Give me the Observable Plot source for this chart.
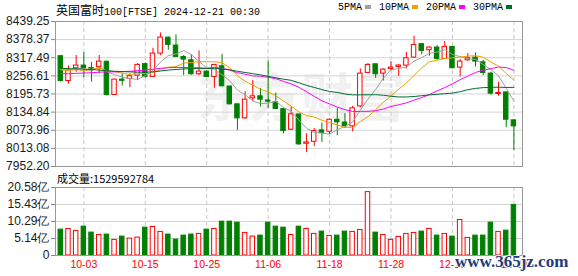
<!DOCTYPE html>
<html>
<head>
<meta charset="utf-8">
<script src="https://cdn.jsdelivr.net/npm/d3@7"></script>
<script src="https://cdn.jsdelivr.net/npm/@observablehq/plot@0.6"></script>
<style>
  html, body { margin: 0; padding: 0; background: #fff; }
  #wrap { position: relative; width: 578px; height: 276px; overflow: hidden; background: #fff; }
  #main, #vol { position: absolute; left: 0; }
  #main { top: 0; }
  #vol { top: 170px; }
  #title { position: absolute; left: 56px; top: 1px; font-size: 12px; color: #000; white-space: nowrap; z-index: 2; }
  #title .cjk { font-family: "Noto Sans CJK SC", sans-serif; font-size: 12px; }
  #title .asc { font-family: "Liberation Mono", monospace; font-size: 10px; }
  #legend { position: absolute; left: 338px; top: 2px; font-family: "Liberation Mono", monospace; font-size: 10px; color: #000; white-space: nowrap; z-index: 2; }
  #legend .sq { display: inline-block; width: 6px; height: 4px; margin: 0 8px 1px 3px; vertical-align: middle; }
  #volhead { position: absolute; left: 57px; top: 170px; font-family: "Noto Sans CJK SC", sans-serif; font-size: 11px; color: #000; white-space: nowrap; z-index: 2; }
  #site { position: absolute; left: 455px; top: 252px; font-family: "Liberation Serif", serif; font-weight: bold; font-size: 17px; color: #1f3d7a; white-space: nowrap; z-index: 3;
          text-shadow: 1px 0 #fff, -1px 0 #fff, 0 1px #fff, 0 -1px #fff; }
</style>
</head>
<body>
<div id="wrap">
  <div id="main"></div>
  <div id="vol"></div>
  <div id="title"></div>
  <div id="legend"></div>
  <div id="volhead"></div>
  <div id="site">www.365jz.com</div>
</div>
<script>
const titleCjk = "英国富时";
const titleAsc = "100[FTSE] 2024-12-21 00:30";
const legendNames = ["5PMA", "10PMA", "20PMA", "30PMA"];
const legendColors = ["#a0a0a0", "#f0a000", "#ff00ff", "#006a33"];
const volHeadLabel = "成交量";
const volHeadValue = "1529592784";

const dates = ["09-30","10-01","10-02","10-03","10-04","10-07","10-08","10-09","10-10","10-11",
  "10-14","10-15","10-16","10-17","10-18","10-21","10-22","10-23","10-24","10-25",
  "10-28","10-29","10-30","10-31","11-01","11-04","11-05","11-06","11-07","11-08",
  "11-11","11-12","11-13","11-14","11-15","11-18","11-19","11-20","11-21","11-22",
  "11-25","11-26","11-27","11-28","11-29","12-02","12-03","12-04","12-05","12-06",
  "12-09","12-10","12-11","12-12","12-13","12-16","12-17","12-18","12-19","12-20"];

const open = [8322.6,8239.5,8282.2,8291.2,8282.5,8286.6,8304.0,8192.4,8244.0,8246.3,
  8257.5,8296.0,8253.0,8331.5,8385.0,8358.5,8320.0,8309.0,8262.0,8271.0,
  8253.0,8288.9,8221.0,8161.0,8114.0,8181.2,8188.0,8174.0,8167.7,8145.0,
  8075.7,8127.0,8028.6,8035.3,8073.5,8069.0,8109.0,8100.0,8087.0,8154.0,
  8266.5,8295.6,8264.2,8279.9,8286.6,8291.0,8318.0,8363.0,8342.7,8351.7,
  8313.6,8354.0,8284.4,8309.0,8318.0,8302.0,8264.2,8195.8,8201.0,8107.2];
const high = [8325.0,8290.0,8324.8,8334.9,8302.0,8324.8,8306.0,8245.0,8264.0,8264.0,
  8297.9,8300.0,8349.5,8401.0,8387.0,8394.4,8325.0,8327.0,8340.5,8273.0,
  8295.6,8329.3,8222.0,8162.0,8203.6,8241.8,8214.9,8306.9,8199.2,8146.0,
  8152.0,8128.0,8062.2,8080.2,8098.2,8111.6,8147.5,8129.6,8154.2,8279.9,
  8297.9,8296.0,8279.9,8304.6,8295.6,8336.0,8389.9,8365.2,8354.0,8358.5,
  8372.0,8355.0,8311.3,8331.5,8333.8,8309.0,8268.7,8235.0,8202.0,8108.0];
const low = [8236.0,8229.0,8268.7,8250.8,8236.0,8264.0,8189.0,8191.0,8222.7,8217.0,
  8240.7,8249.6,8253.0,8324.8,8342.7,8318.0,8257.5,8259.0,8257.5,8251.0,
  8214.9,8219.4,8158.8,8073.5,8109.4,8170.0,8152.0,8147.5,8145.0,8062.3,
  8073.5,8024.0,7999.4,8019.6,8033.0,8060.0,8055.5,8080.0,8069.0,8149.8,
  8264.2,8248.5,8239.5,8273.2,8255.2,8280.0,8315.8,8327.0,8322.6,8309.0,
  8311.3,8281.0,8253.0,8304.6,8286.6,8257.5,8192.4,8188.0,8082.4,8006.0];
const close = [8239.5,8275.4,8291.2,8282.2,8280.6,8304.6,8192.4,8244.0,8240.0,8255.3,
  8293.4,8253.0,8331.5,8385.4,8360.7,8320.3,8311.3,8262.0,8271.0,8253.0,
  8293.4,8221.6,8161.0,8113.9,8176.7,8187.9,8176.7,8170.0,8145.2,8071.3,
  8127.3,8026.4,8033.1,8071.3,8064.5,8109.4,8100.4,8087.0,8147.5,8264.2,
  8293.4,8262.0,8277.7,8284.4,8291.2,8315.8,8360.7,8340.5,8351.7,8313.6,
  8354.0,8282.2,8304.6,8315.8,8304.6,8266.5,8196.9,8199.0,8109.4,8087.0];
// volume in 亿 (1e8)
const volume = [7.83,8.03,7.43,8.73,6.93,6.22,6.33,4.72,5.72,5.12,
  5.42,8.43,8.63,7.13,6.33,4.82,6.02,6.33,6.53,7.83,
  8.03,10.24,10.24,9.94,6.83,5.72,6.02,9.94,8.73,8.43,
  6.22,8.73,8.03,6.53,7.23,5.92,6.02,7.23,7.13,7.73,
  19.18,6.93,6.22,4.72,5.62,6.53,6.83,7.23,8.03,6.02,
  6.53,5.72,10.74,5.32,6.02,6.02,9.94,7.13,7.53,15.30];

const ma5 = [8278,8277,8282,8281,8273.8,8286.8,8270.2,8260.8,8252.3,8247.3,
  8245.0,8257.1,8274.6,8303.7,8324.8,8330.2,8341.8,8327.9,8305.1,8283.5,
  8278.1,8260.2,8240.0,8208.6,8193.3,8172.2,8163.2,8165.0,8171.3,8150.2,
  8138.1,8108.0,8080.7,8065.9,8064.5,8060.9,8075.7,8086.5,8101.8,8141.7,
  8178.5,8210.8,8249.0,8276.3,8281.7,8286.2,8306.0,8318.5,8332.0,8336.5,
  8344.1,8328.4,8321.2,8314.0,8312.2,8294.7,8277.7,8256.6,8215.3,8171.8];
const ma10 = [8277,8274,8278,8273,8278,8283,8274,8271,8266,8260.5,
  8265.9,8263.7,8267.7,8278.0,8286.0,8287.6,8299.5,8301.3,8304.4,8304.2,
  8304.2,8301.0,8284.0,8256.8,8238.4,8225.2,8211.7,8202.5,8189.9,8171.8,
  8155.2,8135.6,8122.9,8118.6,8107.4,8099.5,8091.9,8083.6,8083.8,8103.1,
  8119.7,8143.3,8167.7,8189.1,8211.7,8232.4,8258.4,8283.7,8304.2,8309.1,
  8315.2,8317.2,8319.9,8323.0,8324.4,8319.4,8303.0,8288.9,8264.7,8242.0];
const ma20 = [8264,8264,8265,8266,8267,8269,8270,8270,8271,8272,
  8274,8276,8279,8282,8284,8285,8285,8284,8284,8282.3,
  8285.0,8282.3,8275.8,8267.4,8262.2,8256.4,8255.6,8251.9,8247.2,8238.0,
  8229.7,8218.3,8203.4,8187.7,8172.9,8162.4,8151.8,8143.1,8136.9,8137.4,
  8137.4,8139.5,8145.3,8153.8,8159.5,8165.9,8175.1,8183.7,8194.0,8206.1,
  8217.4,8230.2,8243.8,8256.0,8268.0,8275.9,8280.7,8286.3,8284.4,8275.6];
const ma30 = [8282,8281,8280,8279,8278,8276,8274,8272,8271,8270,
  8269,8269,8270,8273,8276,8278,8280,8281,8281,8281,
  8282,8280,8277,8272,8268,8264,8260,8255,8250,8245.5,
  8241.7,8233.4,8224.8,8217.8,8210.6,8204.1,8201.0,8195.8,8192.7,8193.0,
  8193.0,8193.3,8191.5,8188.2,8185.8,8185.7,8187.3,8190.0,8192.6,8194.7,
  8196.7,8198.7,8203.5,8210.2,8214.5,8217.1,8217.8,8218.7,8217.5,8218.1];

const priceTicks = [7952.20,8013.08,8073.96,8134.84,8195.73,8256.61,8317.49,8378.37,8439.25];
const volTicks = [0,5.145,10.29,15.435,20.58];
const volTickLabels = ["0","5.14亿","10.29亿","15.43亿","20.58亿"];
const labelIdx = [3,11,19,27,35,43,51,59];
const watermark = "东方财富";

// ---- header texts ----
document.getElementById("title").innerHTML =
  `<span class="cjk">${titleCjk}</span><span class="asc">${titleAsc}</span>`;
document.getElementById("legend").innerHTML = legendNames.map((n, k) =>
  `<span>${n}</span><span class="sq" style="background:${legendColors[k]}"></span>`).join("");
document.getElementById("volhead").textContent = volHeadLabel + ":" + volHeadValue;

const RED = "#ff0000", GREEN = "#008000";
const rows = dates.map((d, i) => ({
  i, o: open[i], h: high[i], l: low[i], c: close[i], v: volume[i], up: close[i] >= open[i]
}));
const xDomain = [-0.69, 60.12];
const half = 0.29;
const font = "Liberation Sans, Arial, sans-serif";

const maSeries = [ma5, ma10, ma20, ma30];

const mainChart = Plot.plot({
  width: 578, height: 170,
  marginLeft: 55, marginRight: 56, marginTop: 21, marginBottom: 4,
  style: { fontFamily: font, fontSize: "12px", background: "transparent", overflow: "visible" },
  x: { domain: xDomain, axis: null },
  y: { domain: [priceTicks[0], priceTicks[priceTicks.length - 1]], axis: null },
  marks: [
    Plot.text([watermark], { frameAnchor: "middle", text: d => d, dx: 12, dy: 6, fontSize: 52,
      fontWeight: "bold", fill: "#f1f1f1", fontFamily: "Noto Sans CJK SC" }),
    Plot.ruleY(priceTicks, { stroke: "#d4d4d4" }),
    Plot.ruleX(labelIdx, { stroke: "#c8c8c8", strokeDasharray: "4,3" }),
    Plot.ruleX(rows, { x: "i", y1: "l", y2: "h", stroke: d => d.up ? RED : GREEN }),
    Plot.rect(rows, { x1: d => d.i - half, x2: d => d.i + half, y1: "o", y2: "c",
      fill: d => d.up ? "#fff" : GREEN, stroke: d => d.up ? RED : GREEN, strokeWidth: 1 }),
    ...maSeries.map((s, k) => Plot.line(s, { x: (d, i) => i, y: d => d, stroke: legendColors[k], strokeWidth: 1 })),
    Plot.axisY({ ticks: priceTicks, tickFormat: d => d.toFixed(2), tickSize: 4, tickPadding: 2,
      stroke: "#888", fill: "#1a1a1a", fontSize: 12, label: null }),
    Plot.frame({ stroke: "#999" })
  ]
});
document.getElementById("main").appendChild(mainChart);

const volChart = Plot.plot({
  width: 578, height: 106,
  marginLeft: 55, marginRight: 56, marginTop: 17, marginBottom: 21,
  style: { fontFamily: font, fontSize: "12px", background: "transparent", overflow: "visible" },
  x: { domain: xDomain, axis: null },
  y: { domain: [0, volTicks[volTicks.length - 1]], axis: null },
  marks: [
    Plot.ruleY(volTicks, { stroke: "#d4d4d4" }),
    Plot.ruleX(labelIdx, { stroke: "#c8c8c8", strokeDasharray: "4,3" }),
    Plot.rect(rows, { x1: d => d.i - half, x2: d => d.i + half, y1: 0, y2: "v",
      fill: d => d.up ? "#fff" : GREEN, stroke: d => d.up ? RED : GREEN, strokeWidth: 1 }),
    Plot.axisY({ ticks: volTicks, tickFormat: d => volTickLabels[volTicks.indexOf(d)], tickSize: 4, tickPadding: 2,
      stroke: "#888", fill: "#1a1a1a", fontSize: 12, label: null }),
    Plot.axisX({ ticks: labelIdx, tickFormat: i => dates[i], tickSize: 0, tickPadding: 5,
      fill: RED, fontSize: 10.5, label: null }),
    Plot.frame({ stroke: "#999" })
  ]
});
document.getElementById("vol").appendChild(volChart);
</script>
</body>
</html>
